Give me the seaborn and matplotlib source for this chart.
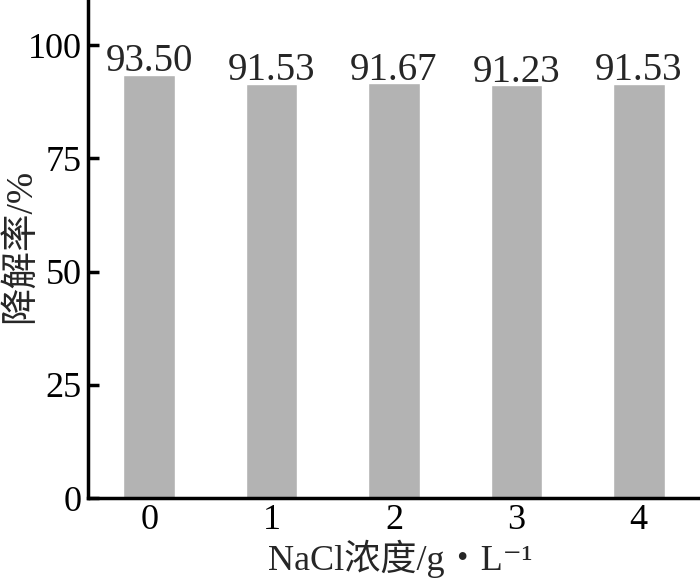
import matplotlib
matplotlib.use('Agg')
import matplotlib.pyplot as plt
import seaborn as sns
import pandas as pd

# data
nacl_conc = ['0', '1', '2', '3', '4']
degradation = [93.50, 91.53, 91.67, 91.23, 91.53]

sns.set_style('ticks')
plt.rcParams['font.family'] = ['Liberation Serif', 'Noto Sans CJK SC', 'DejaVu Sans']

df = pd.DataFrame({'conc': nacl_conc, 'rate': degradation})

fig = plt.figure(figsize=(7, 5.85), dpi=100)
ax = fig.add_axes([0.1257, 0.1487, 0.8743, 0.8513])

sns.barplot(data=df, x='conc', y='rate', color='#b3b3b3', saturation=1,
            width=0.42, ax=ax)
# value labels sit just above each bar
ax.bar_label(ax.containers[0], fmt='%.2f', fontsize=28, padding=-4)

ax.set_xlim(-0.5, 4.5)
ax.set_ylim(0, 110)
ax.set_yticks([0, 25, 50, 75, 100])

for s in ['top', 'right']:
    ax.spines[s].set_visible(False)
for s in ['left', 'bottom']:
    ax.spines[s].set_linewidth(2.5)
    ax.spines[s].set_color('black')

ax.tick_params(direction='in', length=8, width=2.5, labelsize=26, pad=4.5,
               colors='black')
ax.set_xlabel('NaCl浓度/g・L⁻¹', fontsize=26)
ax.set_ylabel('降解率/%', fontsize=27)
ax.xaxis.set_label_coords(0.51, -0.083)
ax.yaxis.set_label_coords(-0.082, 0.506)

fig.savefig('out.png', dpi=100)
